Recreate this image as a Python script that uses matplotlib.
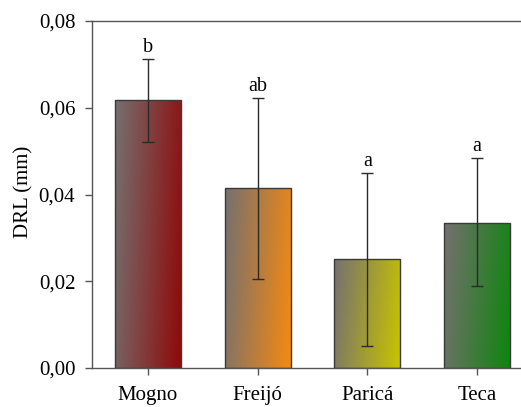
import matplotlib
matplotlib.use("Agg")
import matplotlib.pyplot as plt
import numpy as np
from matplotlib.colors import to_rgb

species = ["Mogno", "Freijó", "Paricá", "Teca"]
drl_mean = [0.0618, 0.0415, 0.0251, 0.0335]
err_low = [0.0521, 0.0205, 0.0051, 0.0189]
err_high = [0.0713, 0.0623, 0.0450, 0.0485]
letters = ["b", "ab", "a", "a"]
end_colors = ["#8e0a0a", "#f58a10", "#c8c400", "#0e850e"]
start_color = "#757070"

plt.rcParams["font.family"] = ["Liberation Serif", "DejaVu Serif"]

fig = plt.figure(figsize=(5.21, 4.07), dpi=100)
ax = fig.add_axes([92 / 521, 39 / 407, 440 / 521, 347 / 407])

x = np.arange(len(species))
width = 0.6
bars = ax.bar(x, drl_mean, width, color="none", edgecolor="#3a3a3a", linewidth=1.0, zorder=3)

# gradient fill: grey at upper left -> colour at lower right
gx, gy = np.meshgrid(np.linspace(0, 1, 100), np.linspace(0, 1, 100))
t = np.clip(0.85 * gx + 0.15 * gy, 0, 1)
for b, c in zip(bars, end_colors):
    c0 = np.array(to_rgb(start_color))
    c1 = np.array(to_rgb(c))
    img = c0[None, None, :] * (1 - t[..., None]) + c1[None, None, :] * t[..., None]
    x0, y0 = b.get_x(), b.get_y()
    im = ax.imshow(img, extent=[x0, x0 + b.get_width(), y0, y0 + b.get_height()],
                   origin="upper", aspect="auto", zorder=2)
    im.set_clip_path(b)

lo = np.array(drl_mean) - np.array(err_low)
hi = np.array(err_high) - np.array(drl_mean)
ax.errorbar(x, drl_mean, yerr=[lo, hi], fmt="none", ecolor="#2a2a2a",
            elinewidth=1.0, capsize=4, capthick=1.0, zorder=4)

for xi, top, lab in zip(x, err_high, letters):
    ax.text(xi, top + 0.0004, lab, ha="center", va="bottom", fontsize=14.5)

ax.set_xlim(-0.51, 3.5)
ax.set_ylim(0, 0.08)
ax.set_yticks([0, 0.02, 0.04, 0.06, 0.08])
ax.set_yticklabels(["0,00", "0,02", "0,04", "0,06", "0,08"])
ax.set_xticks(x)
ax.set_xticklabels(species)
ax.tick_params(labelsize=15, color="#555555", length=5, width=1)
ax.tick_params(axis="x", pad=8)
ax.tick_params(axis="y", pad=7)
ax.set_ylabel("DRL (mm)", fontsize=15)
ax.yaxis.set_label_coords(-0.134, 0.507)

for s in ["top", "bottom", "left"]:
    ax.spines[s].set_color("#555555")
    ax.spines[s].set_linewidth(1.0)
ax.spines["right"].set_visible(False)

fig.savefig("out.png", dpi=100)
